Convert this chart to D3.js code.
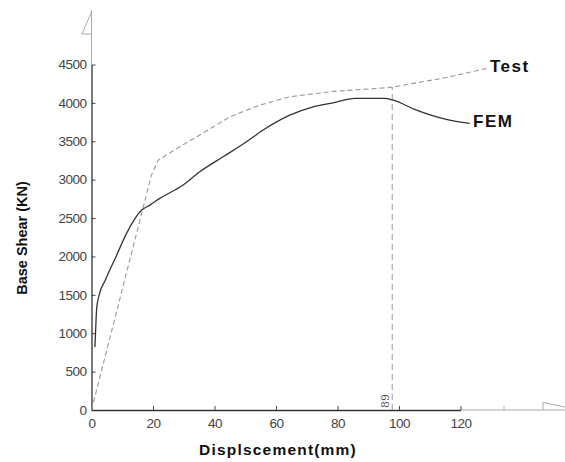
<!DOCTYPE html>
<html>
<head>
<meta charset="utf-8">
<script src="https://cdn.jsdelivr.net/npm/d3@7"></script>
<style>
  body { margin: 0; background: #fff; }
  svg { display: block; }
</style>
</head>
<body>
<svg width="565" height="462"></svg>
<script>
// Test curve (dashed)
var testX = [0, 19.5, 21.7, 28.7, 36, 45, 54.7, 64.5, 78.6, 93.7, 97.8, 104.6, 115.4, 128.5];
var testY = [0, 3060, 3255, 3428, 3600, 3819, 3971, 4080, 4150, 4190, 4205, 4254, 4330, 4449];
// FEM curve (solid)
var femX = [1.1, 1.3, 1.7, 2.5, 4.5, 8, 11.4, 16.3, 19, 22.2, 29.8, 35.2, 42.8, 50.4, 55.8, 64.5, 72.1, 78.6, 85.6, 95.4, 98.1, 105.7, 115.4, 123];
var femY = [820, 1000, 1330, 1500, 1693, 2000, 2300, 2604, 2669, 2756, 2930, 3103, 3298, 3493, 3646, 3841, 3949, 4001, 4060, 4060, 4036, 3906, 3785, 3733];
var xTicks = [0, 20, 40, 60, 80, 100, 120];
var yTicks = [0, 500, 1000, 1500, 2000, 2500, 3000, 3500, 4000, 4500];
var peakX = 97.8, peakY = 4205, peakLabel = "89";

var svg = d3.select("svg");
var x = d3.scaleLinear().domain([0, 120]).range([91.5, 460.5]);
var y = d3.scaleLinear().domain([0, 4500]).range([410, 64.5]);
var font = "Arial, 'Liberation Sans', sans-serif";

// grey extensions of the axes
var ext = svg.append("g").attr("stroke", "#aaa").attr("fill", "none").attr("stroke-width", 1);
ext.append("line").attr("x1", x(0)).attr("x2", x(0)).attr("y1", y(4500)).attr("y2", 10);
ext.append("path").attr("d", "M91.5,12 L82,34 L91.5,34");
ext.append("line").attr("x1", x(120)).attr("x2", 565).attr("y1", y(0)).attr("y2", y(0));
ext.append("line").attr("x1", 504).attr("x2", 504).attr("y1", y(0)).attr("y2", y(0) - 4);
ext.append("path").attr("d", "M543,410 L543,402.5 L565,407");

// axes
var xAxis = d3.axisBottom(x).tickValues(xTicks).tickFormat(d3.format("d"))
  .tickSizeInner(-4).tickSizeOuter(0).tickPadding(8);
var yAxis = d3.axisLeft(y).tickValues(yTicks).tickFormat(d3.format("d"))
  .tickSizeInner(-4).tickSizeOuter(0).tickPadding(5);

var gx = svg.append("g").attr("transform", "translate(0," + y(0) + ")").call(xAxis);
var gy = svg.append("g").attr("transform", "translate(" + x(0) + ",0)").call(yAxis);
[gx, gy].forEach(function(g) {
  g.select(".domain").attr("stroke", "#333").attr("stroke-width", 1.3);
  g.selectAll(".tick line").attr("stroke", "#444");
  g.selectAll("text").attr("fill", "#444").attr("font-family", font)
    .attr("font-size", 13.5).attr("letter-spacing", -0.5);
});

// vertical marker line
svg.append("line")
  .attr("x1", x(peakX)).attr("x2", x(peakX))
  .attr("y1", y(0)).attr("y2", y(peakY))
  .attr("stroke", "#999").attr("stroke-width", 1).attr("stroke-dasharray", "6,4");
svg.append("text")
  .attr("transform", "translate(" + (x(peakX) - 3) + "," + (y(0) - 2) + ") rotate(-90)")
  .attr("font-family", "'DejaVu Serif', serif").attr("font-size", 11).attr("fill", "#555")
  .text(peakLabel);

var line = d3.line().x(function(d) { return x(d[0]); }).y(function(d) { return y(d[1]); });

svg.append("path")
  .attr("d", line(d3.zip(testX, testY)))
  .attr("fill", "none").attr("stroke", "#999").attr("stroke-width", 1.1)
  .attr("stroke-dasharray", "5,3");

svg.append("path")
  .attr("d", line.curve(d3.curveMonotoneX)(d3.zip(femX, femY)))
  .attr("fill", "none").attr("stroke", "#333").attr("stroke-width", 1.3);

// series labels
svg.append("text").attr("x", 490).attr("y", 72)
  .attr("font-family", font).attr("font-weight", "bold").attr("font-size", 17)
  .attr("letter-spacing", 1.5).attr("fill", "#111").text("Test");
svg.append("text").attr("x", 473).attr("y", 127)
  .attr("font-family", font).attr("font-weight", "bold").attr("font-size", 17)
  .attr("letter-spacing", 1.5).attr("fill", "#111").text("FEM");

// axis titles
svg.append("text").attr("x", 278).attr("y", 455).attr("text-anchor", "middle")
  .attr("font-family", font).attr("font-weight", "bold").attr("font-size", 15.5)
  .attr("letter-spacing", 1.2).attr("fill", "#111").text("Displscement(mm)");
svg.append("text")
  .attr("transform", "translate(27,238) rotate(-90)").attr("text-anchor", "middle")
  .attr("font-family", font).attr("font-weight", "bold").attr("font-size", 14.5)
  .attr("fill", "#111").text("Base Shear (KN)");
</script>
</body>
</html>
